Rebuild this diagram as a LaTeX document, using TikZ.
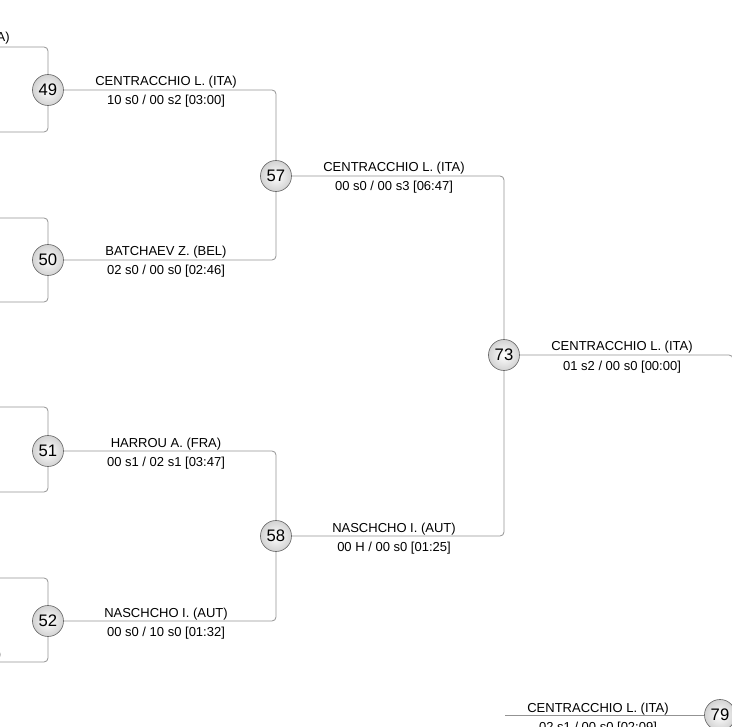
\documentclass[tikz,border=0pt]{standalone}
\usepackage{fontspec}
\setmainfont{Liberation Sans}
\begin{document}
\begin{tikzpicture}[x=0.75pt,y=-0.75pt,
    bout/.style={draw=gray!85!black, line width=0.5pt, circle, minimum size=23.25pt, inner sep=0pt,
        inner color=white, outer color=gray!35, font=\fontsize{12.5}{14}\selectfont},
    link/.style={draw=gray!85, line width=0.6pt, rounded corners=3pt},
    who/.style={anchor=base, inner sep=0pt, font=\fontsize{9.75}{11}\selectfont}]
    \useasboundingbox (0,0) rectangle (732,727);
    \clip (0,0) rectangle (732,727);

    % bouts
    \node[bout] (c49) at (48, 90) {49};
    \node[bout] (c50) at (48, 260) {50};
    \node[bout] (c51) at (48, 451) {51};
    \node[bout] (c52) at (48, 621) {52};
    \node[bout] (c57) at (276, 176) {57};
    \node[bout] (c58) at (276, 536) {58};
    \node[bout] (c73) at (504, 355) {73};
    \node[bout] (c79) at (720, 715) {79};

    % loose ends
    \coordinate (t49) at (-5, 47);
    \coordinate (b49) at (-5, 132);
    \coordinate (t50) at (-5, 218);
    \coordinate (b50) at (-5, 302);
    \coordinate (t51) at (-5, 407);
    \coordinate (b51) at (-5, 492);
    \coordinate (t52) at (-5, 578);
    \coordinate (b52) at (-5, 662);
    \coordinate (r73) at (733, 430);
    \coordinate (l79) at (505, 715);

    \draw[link] (t49) -| (c49);
    \draw[link] (b49) -| (c49);
    \draw[link] (t50) -| (c50);
    \draw[link] (b50) -| (c50);
    \draw[link] (t51) -| (c51);
    \draw[link] (b51) -| (c51);
    \draw[link] (t52) -| (c52);
    \draw[link] (b52) -| (c52);

    \draw[link] (c49) -| (c57);
    \draw[link] (c50) -| (c57);
    \draw[link] (c51) -| (c58);
    \draw[link] (c52) -| (c58);
    \draw[link] (c57) -| (c73);
    \draw[link] (c58) -| (c73);
    \draw[link] (c73) -| (r73);
    \draw[link] (l79) -- (c79);

    % winners and scores
    \node[who] (n49) at (166, 86) {CENTRACCHIO L. (ITA)};
    \node[who] (s49) at (166, 105) {10 s0 / 00 s2 [03:00]};
    \node[who] (n50) at (166, 256) {BATCHAEV Z. (BEL)};
    \node[who] (s50) at (166, 275) {02 s0 / 00 s0 [02:46]};
    \node[who] (n51) at (166, 447) {HARROU A. (FRA)};
    \node[who] (s51) at (166, 466) {00 s1 / 02 s1 [03:47]};
    \node[who] (n52) at (166, 617) {NASCHCHO I. (AUT)};
    \node[who] (s52) at (166, 636) {00 s0 / 10 s0 [01:32]};
    \node[who] (n57) at (394, 172) {CENTRACCHIO L. (ITA)};
    \node[who] (s57) at (394, 191) {00 s0 / 00 s3 [06:47]};
    \node[who] (n58) at (394, 532) {NASCHCHO I. (AUT)};
    \node[who] (s58) at (394, 551) {00 H / 00 s0 [01:25]};
    \node[who] (n73) at (622, 351) {CENTRACCHIO L. (ITA)};
    \node[who] (s73) at (622, 370) {01 s2 / 00 s0 [00:00]};
    \node[who] (n79) at (598, 712) {CENTRACCHIO L. (ITA)};
    \node[who] (s79) at (598, 731) {02 s1 / 00 s0 [02:09]};

    \node[who, anchor=base east] (n41) at (10, 42) {A)};
    \node[who, anchor=base east] (n48) at (1.5, 658) {)};
\end{tikzpicture}
\end{document}
